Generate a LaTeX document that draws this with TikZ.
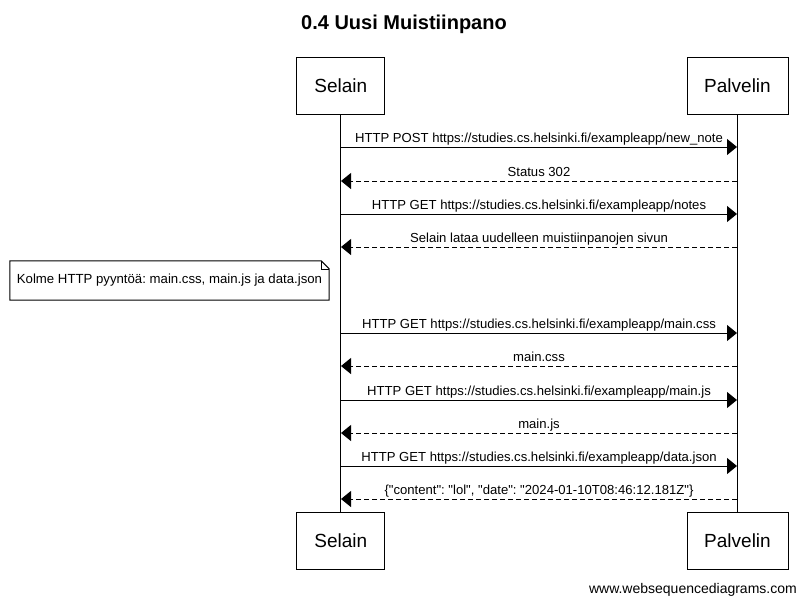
\documentclass[tikz,border=0pt]{standalone}
\usepackage{fontspec}
\setmainfont{Liberation Sans}[Ligatures=TeXOff]
\usetikzlibrary{arrows.meta,calc}
\frenchspacing

\tikzset{
  actor/.style={draw,line width=1pt,minimum width=88pt,minimum height=57pt,
    inner sep=0pt,font=\fontsize{19}{19}\selectfont},
  actorwide/.style={actor,minimum width=101pt},
  msg/.style={line width=1pt,-{Triangle[length=10pt,width=16pt]}},
  reply/.style={msg,dash pattern=on 5pt off 3pt},
  lbl/.style={anchor=base,yshift=5pt,inner sep=0pt,font=\fontsize{13.1}{13.1}\selectfont},
  notebox/.style={minimum width=319pt,minimum height=39pt,inner sep=0pt,
    font=\fontsize{13.2}{13.2}\selectfont}
}

\begin{document}
\begin{tikzpicture}[x=1pt,y=-1pt]
\useasboundingbox (0,0) rectangle (808,605);

\node (title) at (404,24) {\fontsize{20}{20}\selectfont\bfseries 0.4 Uusi Muistiinpano};

% osallistujat
\node[actor] (S) at (340.75,86) {Selain};
\node[actorwide] (P) at (737.5,86) {Palvelin};
\node[actor] (SS) at (340.75,541) {Selain};
\node[actorwide] (PP) at (737.5,541) {Palvelin};

\draw[line width=1pt] (S.south) -- (SS.north);
\draw[line width=1pt] (P.south) -- (PP.north);

% viestien pisteet
\coordinate (s1) at (341,147); \coordinate (p1) at (737,147);
\coordinate (s2) at (341,181); \coordinate (p2) at (737,181);
\coordinate (s3) at (341,214); \coordinate (p3) at (737,214);
\coordinate (s4) at (341,247); \coordinate (p4) at (737,247);
\coordinate (s5) at (341,333); \coordinate (p5) at (737,333);
\coordinate (s6) at (341,366); \coordinate (p6) at (737,366);
\coordinate (s7) at (341,400); \coordinate (p7) at (737,400);
\coordinate (s8) at (341,433); \coordinate (p8) at (737,433);
\coordinate (s9) at (341,466); \coordinate (p9) at (737,466);
\coordinate (s10) at (341,499); \coordinate (p10) at (737,499);

\draw[msg] (s1) -- node[lbl] {HTTP POST https://studies.cs.helsinki.fi/exampleapp/new\_note} (p1);
\draw[reply] (p2) -- node[lbl] {Status 302} (s2);
\draw[msg] (s3) -- node[lbl] {HTTP GET https://studies.cs.helsinki.fi/exampleapp/notes} (p3);
\draw[reply] (p4) -- node[lbl] {Selain lataa uudelleen muistiinpanojen sivun} (s4);

% huomautus
\node[notebox] (note) at (169.5,280.5) {Kolme HTTP pyyntöä: main.css, main.js ja data.json};
\draw[line width=1pt] (note.north west) -- ($(note.north east)+(-8,0)$) -- ($(note.north east)+(0,8)$)
  -- (note.south east) -- (note.south west) -- cycle;
\draw[line width=0.6pt] ($(note.north east)+(-8,0)$) -- ($(note.north east)+(-8,8)$) -- ($(note.north east)+(0,8)$);

\draw[msg] (s5) -- node[lbl] {HTTP GET https://studies.cs.helsinki.fi/exampleapp/main.css} (p5);
\draw[reply] (p6) -- node[lbl] {main.css} (s6);
\draw[msg] (s7) -- node[lbl] {HTTP GET https://studies.cs.helsinki.fi/exampleapp/main.js} (p7);
\draw[reply] (p8) -- node[lbl] {main.js} (s8);
\draw[msg] (s9) -- node[lbl] {HTTP GET https://studies.cs.helsinki.fi/exampleapp/data.json} (p9);
\draw[reply] (p10) -- node[lbl] {\{"content": "lol", "date": "2024-01-10T08:46:12.181Z"\}} (s10);

\node[anchor=base east,inner sep=0pt,font=\fontsize{14}{14}\selectfont] (wsd) at (797,593) {www.websequencediagrams.com};
\end{tikzpicture}
\end{document}
